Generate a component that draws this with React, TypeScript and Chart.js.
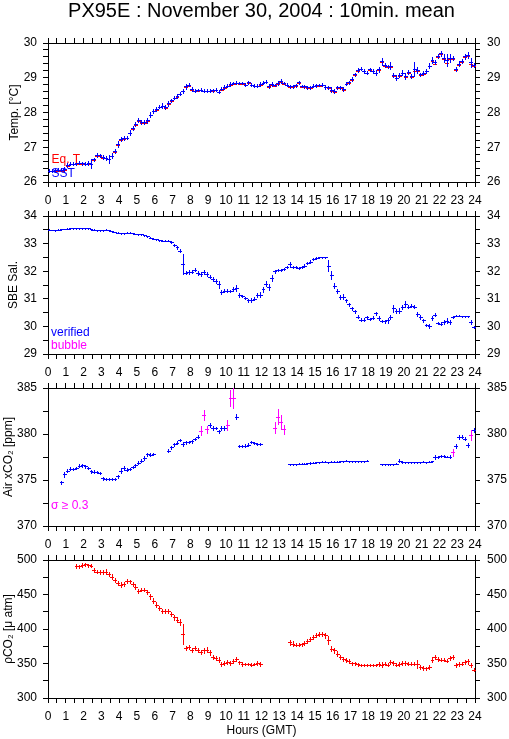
import React, { useEffect, useRef } from 'react';
import Chart from 'chart.js/auto';

// ---- data (10-min means, 144 per day) ----
const TITLE = 'PX95E : November 30, 2004 : 10min. mean';
const X_LABEL = 'Hours (GMT)';
const HALF_BIN = 5 / 60; // half of a 10-minute bin, in hours

const SST = [
  26.33,26.33,26.34,26.35,26.35,26.37,
  26.48,26.53,26.53,26.54,26.55,26.54,
  26.53,26.54,26.53,26.65,26.78,26.77,
  26.72,26.70,26.67,26.76,26.90,27.10,
  27.24,27.26,27.28,27.42,27.55,27.66,
  27.78,27.72,27.72,27.77,27.94,28.05,
  28.10,28.17,28.20,28.15,28.26,28.35,
  28.43,28.48,28.54,28.63,28.75,28.80,
  28.68,28.63,28.65,28.66,28.63,28.63,
  28.63,28.64,28.66,28.60,28.68,28.73,
  28.77,28.82,28.85,28.86,28.85,28.85,
  28.80,28.87,28.80,28.77,28.77,28.82,
  28.86,28.89,28.76,28.82,28.79,28.85,
  28.90,28.85,28.80,28.75,28.75,28.78,
  28.87,28.76,28.75,28.72,28.72,28.77,
  28.78,28.79,28.80,28.74,28.73,28.66,
  28.62,28.72,28.72,28.68,28.83,28.87,
  28.96,29.10,29.22,29.26,29.20,29.15,
  29.24,29.20,29.15,29.24,29.47,29.36,
  29.33,29.35,29.07,29.00,29.07,29.15,
  29.05,29.16,29.05,29.24,29.22,29.10,
  29.13,29.20,29.35,29.52,29.46,29.63,
  29.70,29.56,29.50,29.56,29.58,29.25,
  29.41,29.48,29.62,29.66,29.44,29.37,
];
const SST_SD = [
  0.04,0.04,0.04,0.04,0.04,0.05,
  0.06,0.04,0.04,0.04,0.04,0.04,
  0.04,0.05,0.12,0.05,0.05,0.04,
  0.05,0.06,0.11,0.07,0.06,0.09,
  0.06,0.05,0.05,0.08,0.06,0.06,
  0.06,0.05,0.05,0.06,0.08,0.06,
  0.05,0.05,0.06,0.06,0.06,0.05,
  0.05,0.05,0.05,0.06,0.06,0.05,
  0.05,0.04,0.04,0.04,0.04,0.04,
  0.04,0.04,0.04,0.05,0.04,0.05,
  0.05,0.05,0.04,0.04,0.04,0.04,
  0.04,0.05,0.04,0.04,0.04,0.05,
  0.05,0.04,0.06,0.06,0.04,0.05,
  0.05,0.04,0.04,0.04,0.04,0.04,
  0.05,0.04,0.04,0.04,0.04,0.04,
  0.04,0.04,0.04,0.05,0.04,0.07,
  0.05,0.05,0.04,0.05,0.05,0.05,
  0.05,0.05,0.05,0.05,0.05,0.04,
  0.05,0.05,0.06,0.07,0.10,0.06,
  0.05,0.09,0.06,0.07,0.06,0.06,
  0.08,0.06,0.07,0.20,0.08,0.05,
  0.05,0.06,0.08,0.09,0.06,0.06,
  0.07,0.12,0.17,0.12,0.06,0.07,
  0.07,0.06,0.07,0.08,0.13,0.06,
];
const EQT = [
  26.31,26.31,26.32,26.33,26.33,26.35,
  26.46,26.51,26.51,26.52,26.53,26.52,
  26.51,26.52,26.51,26.63,26.76,26.75,
  26.70,26.68,26.66,26.74,26.87,27.07,
  27.22,27.24,27.26,27.40,27.53,27.64,
  27.76,27.70,27.70,27.75,27.92,28.03,
  28.08,28.15,28.18,28.13,28.24,28.33,
  28.41,28.46,28.52,28.61,28.73,28.77,
  28.66,28.61,28.63,28.64,28.61,28.61,
  28.61,28.62,28.64,28.58,28.66,28.71,
  28.75,28.80,28.83,28.84,28.83,28.83,
  28.78,28.85,28.78,28.75,28.75,28.80,
  28.84,28.87,28.74,28.80,28.77,28.83,
  28.88,28.83,28.78,28.73,28.73,28.76,
  28.85,28.74,28.73,28.70,28.70,28.75,
  28.76,28.77,28.78,28.72,28.71,28.62,
  28.60,28.70,28.70,28.66,28.81,28.85,
  28.94,29.08,29.20,29.24,29.18,29.13,
  29.22,29.18,29.13,29.22,29.44,29.33,
  29.31,29.31,29.05,28.98,29.05,29.13,
  29.03,29.13,29.03,29.20,29.19,29.08,
  29.11,29.18,29.33,29.48,29.41,29.60,
  29.67,29.53,29.43,29.53,29.55,29.22,
  29.38,29.45,29.59,29.63,29.40,29.35,
];
const EQT_SD = [
  0.01,0.01,0.01,0.01,0.01,0.01,
  0.01,0.01,0.01,0.01,0.01,0.01,
  0.01,0.01,0.02,0.01,0.01,0.01,
  0.01,0.01,0.02,0.01,0.01,0.02,
  0.01,0.01,0.01,0.01,0.01,0.01,
  0.01,0.01,0.01,0.01,0.01,0.01,
  0.01,0.01,0.01,0.01,0.01,0.01,
  0.01,0.01,0.01,0.01,0.01,0.01,
  0.01,0.01,0.01,0.01,0.01,0.01,
  0.01,0.01,0.01,0.01,0.01,0.01,
  0.01,0.01,0.01,0.01,0.01,0.01,
  0.01,0.01,0.01,0.01,0.01,0.01,
  0.01,0.01,0.01,0.01,0.01,0.01,
  0.01,0.01,0.01,0.01,0.01,0.01,
  0.01,0.01,0.01,0.01,0.01,0.01,
  0.01,0.01,0.01,0.01,0.01,0.01,
  0.01,0.01,0.01,0.01,0.01,0.01,
  0.01,0.01,0.01,0.01,0.01,0.01,
  0.01,0.01,0.01,0.01,0.02,0.01,
  0.01,0.02,0.01,0.01,0.01,0.01,
  0.01,0.01,0.01,0.02,0.01,0.01,
  0.01,0.01,0.01,0.02,0.01,0.01,
  0.01,0.02,0.02,0.02,0.01,0.01,
  0.01,0.01,0.01,0.01,0.02,0.01,
];

const SAL = [
  33.50,33.49,33.48,33.50,33.52,33.53,
  33.54,33.55,33.55,33.55,33.55,33.56,
  33.56,33.55,33.52,33.50,33.48,33.48,
  33.48,33.50,33.48,33.45,33.42,33.40,
  33.38,33.38,33.40,33.40,33.38,33.35,
  33.33,33.33,33.30,33.27,33.22,33.18,
  33.15,33.12,33.10,33.10,33.10,33.05,
  32.95,32.87,32.75,32.25,31.95,31.97,
  31.98,32.05,31.95,31.90,31.97,31.90,
  31.80,31.72,31.65,31.52,31.25,31.30,
  31.30,31.27,31.35,31.38,31.15,31.10,
  31.02,30.95,30.95,31.00,31.15,31.15,
  31.35,31.55,31.42,31.75,32.00,32.05,
  32.05,32.08,32.15,32.25,32.15,32.15,
  32.12,32.15,32.20,32.30,32.35,32.45,
  32.47,32.50,32.50,32.50,32.20,31.85,
  31.48,31.27,31.05,31.08,30.95,30.80,
  30.65,30.55,30.35,30.25,30.25,30.33,
  30.27,30.32,30.47,30.30,30.20,30.18,
  30.22,30.35,30.65,30.55,30.57,30.70,
  30.82,30.72,30.75,30.72,30.45,30.35,
  30.22,30.05,30.02,30.30,30.43,30.12,
  30.10,30.15,30.20,30.17,30.35,30.38,
  30.38,30.37,30.37,30.37,30.15,29.98,
];
const SAL_SD = [
  0.015,0.015,0.015,0.015,0.015,0.015,
  0.015,0.015,0.015,0.015,0.015,0.015,
  0.015,0.015,0.015,0.015,0.015,0.015,
  0.015,0.015,0.015,0.015,0.015,0.015,
  0.015,0.015,0.015,0.015,0.015,0.015,
  0.015,0.015,0.015,0.015,0.015,0.015,
  0.015,0.015,0.015,0.015,0.015,0.04,
  0.05,0.05,0.06,0.36,0.04,0.06,
  0.06,0.05,0.07,0.06,0.07,0.06,
  0.06,0.07,0.06,0.12,0.07,0.05,
  0.05,0.04,0.06,0.11,0.07,0.05,
  0.04,0.05,0.07,0.05,0.07,0.09,
  0.09,0.09,0.11,0.11,0.05,0.04,
  0.03,0.03,0.05,0.08,0.05,0.03,
  0.03,0.03,0.05,0.05,0.04,0.03,
  0.03,0.02,0.02,0.02,0.19,0.14,
  0.08,0.07,0.07,0.08,0.05,0.06,
  0.06,0.05,0.05,0.04,0.04,0.06,
  0.05,0.05,0.06,0.07,0.05,0.06,
  0.09,0.07,0.14,0.08,0.08,0.07,
  0.10,0.06,0.06,0.05,0.08,0.07,
  0.06,0.05,0.06,0.07,0.05,0.05,
  0.05,0.07,0.09,0.07,0.03,0.02,
  0.02,0.02,0.02,0.02,0.08,0.04,
];

const XCO2 = [
  null,null,null,null,374.75,375.6,
  376.0,376.2,376.2,376.3,376.55,376.6,
  376.5,376.3,375.95,375.9,375.85,375.75,
  375.2,375.1,375.1,375.1,375.15,375.4,
  376.0,376.3,376.1,376.2,376.4,376.6,
  376.9,377.1,377.4,377.8,377.75,377.85,
  null,null,null,null,378.2,378.55,
  378.9,379.05,379.35,378.9,379.1,379.15,
  379.2,379.45,379.7,380.35,382.1,380.5,
  381.0,380.65,380.65,380.3,380.65,380.65,
  381.0,383.9,383.9,381.9,378.7,378.7,
  378.75,378.85,379.1,379.0,378.95,378.95,
  null,null,null,null,380.7,381.9,
  381.3,380.5,null,376.7,376.7,376.72,
  376.75,376.75,376.77,376.8,376.85,376.88,
  376.92,376.95,376.97,376.97,376.95,376.97,
  377.0,377.0,377.02,377.05,377.08,377.05,
  377.02,377.02,377.05,377.05,377.05,377.08,
  null,null,null,null,376.7,376.7,
  376.7,376.7,376.72,376.75,377.1,376.95,
  376.92,376.92,376.95,376.95,376.95,376.95,
  376.97,376.95,376.97,377.02,377.5,377.5,
  377.65,377.6,377.55,377.55,378.0,378.7,
  379.7,379.7,379.5,378.8,379.9,380.45,
];
const XCO2_SD = [
  0,0,0,0,0.15,0.28,
  0.18,0.16,0.15,0.15,0.15,0.14,
  0.15,0.15,0.14,0.14,0.13,0.13,
  0.15,0.12,0.10,0.10,0.12,0.15,
  0.26,0.18,0.16,0.15,0.15,0.16,
  0.16,0.16,0.18,0.16,0.14,0.12,
  0,0,0,0,0.18,0.16,
  0.16,0.16,0.16,0.24,0.16,0.14,
  0.14,0.14,0.16,0.50,0.54,0.36,
  0.24,0.18,0.16,0.18,0.20,0.20,
  0.57,0.86,1.08,0.28,0.12,0.12,
  0.14,0.14,0.12,0.12,0.12,0.12,
  0,0,0,0,0.63,0.77,
  0.77,0.45,0,0.08,0.06,0.06,
  0.06,0.06,0.06,0.06,0.06,0.06,
  0.06,0.06,0.06,0.06,0.06,0.06,
  0.06,0.06,0.06,0.06,0.06,0.06,
  0.06,0.06,0.06,0.06,0.06,0.06,
  0,0,0,0,0.06,0.06,
  0.06,0.06,0.06,0.06,0.14,0.08,
  0.06,0.06,0.06,0.06,0.06,0.06,
  0.06,0.06,0.06,0.08,0.20,0.15,
  0.12,0.12,0.10,0.12,0.40,0.26,
  0.20,0.15,0.15,0.25,0.54,0.24,
];
const XCO2_FLAG_SIGMA = 0.3;

const PCO2 = [
  null,null,null,null,null,null,
  null,null,null,491.8,490.8,492.3,
  493.5,492.3,491.8,486.0,483.0,482.6,
  482.6,483.0,480.0,476.0,471.5,466.7,
  464.3,465.7,470.0,469.0,465.2,461.0,
  455.6,457.0,457.0,453.6,447.3,441.0,
  435.3,430.4,426.0,426.0,426.0,422.0,
  417.0,413.5,409.7,392.8,372.0,373.9,
  369.1,372.0,370.0,366.7,369.1,370.0,
  366.0,360.0,358.0,355.6,349.8,350.7,
  352.2,350.7,354.0,356.5,351.7,349.3,
  349.3,349.3,348.3,349.3,350.7,349.3,
  null,null,null,null,null,null,
  null,null,null,380.7,378.7,377.3,
  377.3,377.8,379.7,383.1,385.5,388.4,
  390.8,393.2,392.8,390.8,384.5,371.5,
  369.1,364.3,358.9,357.0,355.6,354.1,
  350.2,350.2,349.0,347.3,347.3,347.3,
  347.3,347.3,347.3,349.3,348.5,350.0,
  348.5,352.0,350.5,348.5,349.0,351.0,
  351.0,350.0,350.0,350.0,349.3,345.1,
  343.5,343.0,345.0,355.5,359.4,357.0,
  355.6,355.6,354.1,358.0,359.4,347.3,
  349.3,349.8,352.2,353.1,347.3,341.0,
];
const PCO2_SD = [
  0,0,0,0,0,0,
  0,0,0,3,2.5,3,
  2.5,2.5,2.5,3,2.5,2.5,
  2.5,4,3,3.5,3,3.5,
  3.5,3,3,2.5,3,3.5,
  3,2.5,2.5,3,4,3.5,
  3.5,3,2.5,2.5,2.5,3,
  4,3.5,4.5,15,3,3,
  3,3,3,3,3.5,3.5,
  3.5,3,3.5,4,3,2.5,
  2.5,2.5,3,3.5,2.5,2.5,
  2,2,2,2,2.5,2.5,
  0,0,0,0,0,0,
  0,0,0,3.5,3.5,2.5,
  2.5,2.5,3,3,3,3,
  3,3,3,3.5,6,4,
  3.5,3.5,3,3,3,3,
  2.5,2,2,1.5,1.5,1.5,
  1.5,1.5,1.5,2.5,3,2.5,
  2.5,3,2.5,2.5,2.5,2.5,
  2.5,2,2,2,6,2.5,
  2.5,2,2.5,4,3.5,3,
  2.5,2.5,2.5,3,3,3,
  3.5,2.5,3,3.5,3,2.5,
];

// centre time of each 10-min bin (hours)
const HOURS = SST.map((_, i) => (i + 0.5) / 6);

const FONT = "'Liberation Sans', Arial, Helvetica, sans-serif";
const BLUE = '#0000ff';
const RED = '#ff0000';
const MAGENTA = '#ff00ff';

type Series = { label: string; values: (number | null)[]; sd: number[]; color: string; flagColor?: string; flagAt?: number };
type Note = { text: string; color: string; size: number; dx: number; dy: number; fromTop?: boolean; center?: boolean };
type PanelCfg = {
  canvasTop: number; canvasHeight: number; padTop: number; bottomH: number;
  min: number; max: number; minor: number; major: number;
  yTitle: string; titlePad: number; series: Series[]; notes: Note[]; xTitle?: string;
};

const crossPlugin = {
  id: 'errcross',
  afterDatasetsDraw(chart: any) {
    const { ctx, chartArea, scales } = chart;
    const xs = scales.x, ys = scales.y;
    ctx.save();
    ctx.beginPath();
    ctx.rect(chartArea.left, chartArea.top, chartArea.right - chartArea.left + 1, chartArea.bottom - chartArea.top + 1);
    ctx.clip();
    ctx.lineWidth = 1;
    chart.data.datasets.forEach((ds: any) => {
      ds.data.forEach((p: any, j: number) => {
        if (p.y == null) return;
        const sd = ds.sd[j] || 0;
        const col = ds.flagColor && sd >= ds.flagAt ? ds.flagColor : ds.borderColor;
        const x0 = xs.getPixelForValue(p.x - HALF_BIN);
        const x1 = xs.getPixelForValue(p.x + HALF_BIN);
        const cx = Math.round(xs.getPixelForValue(p.x)) + 0.5;
        const cy = Math.round(ys.getPixelForValue(p.y)) + 0.5;
        const yt = ys.getPixelForValue(p.y + sd);
        const yb = ys.getPixelForValue(p.y - sd);
        ctx.strokeStyle = col;
        ctx.beginPath();
        ctx.moveTo(Math.round(x0), cy);
        ctx.lineTo(Math.round(x1) + 1, cy);
        ctx.moveTo(cx, Math.round(yt));
        ctx.lineTo(cx, Math.round(yb) + 1);
        ctx.stroke();
      });
    });
    ctx.restore();
  },
};

function makeNotes(notes: Note[]) {
  return {
    id: 'notes',
    afterDraw(chart: any) {
      const { ctx, chartArea } = chart;
      ctx.save();
      notes.forEach((n) => {
        ctx.font = `${n.size}px ${FONT}`;
        ctx.fillStyle = n.color;
        ctx.textBaseline = 'alphabetic';
        ctx.textAlign = n.center ? 'center' : 'left';
        const x = n.center ? (chartArea.left + chartArea.right) / 2 + n.dx : chartArea.left + n.dx;
        const y = n.fromTop ? chartArea.top + n.dy : chartArea.bottom + n.dy;
        ctx.fillText(n.text, x, y);
      });
      ctx.restore();
    },
  };
}

const isMajor = (v: number, major: number) => {
  const r = v / major;
  return Math.abs(r - Math.round(r)) < 1e-6;
};

function buildConfig(p: PanelCfg): any {
  const tickFont = { family: FONT, size: 12 };
  const grid = { drawOnChartArea: false, drawTicks: true, tickLength: 5, color: '#000', tickColor: '#000', lineWidth: 1, tickWidth: 1 };
  const border = { display: true, color: '#000', width: 1 };
  const yLabel = (v: any) => (isMajor(Number(v), p.major) ? String(Math.round(Number(v))) : '');
  const xLabel = (v: any) => (isMajor(Number(v), 1) ? String(Math.round(Number(v))) : '');
  return {
    type: 'scatter',
    data: {
      datasets: p.series.map((s) => ({
        label: s.label,
        data: HOURS.map((h, i) => ({ x: h, y: s.values[i] })),
        sd: s.sd,
        flagColor: s.flagColor,
        flagAt: s.flagAt,
        borderColor: s.color,
        backgroundColor: s.color,
        pointRadius: 0,
        pointHoverRadius: 0,
        showLine: false,
      })),
    },
    options: {
      responsive: false,
      animation: false,
      events: [],
      layout: { padding: { top: p.padTop, left: 0, right: 0, bottom: 0 } },
      plugins: { legend: { display: false }, tooltip: { enabled: false }, title: { display: false } },
      scales: {
        x: {
          type: 'linear', position: 'bottom', min: 0, max: 24,
          ticks: { stepSize: 0.5, autoSkip: false, maxRotation: 0, minRotation: 0, padding: 6, color: '#000', font: tickFont, callback: xLabel },
          grid, border,
          title: p.xTitle ? { display: true, text: p.xTitle, color: '#000', font: { family: FONT, size: 12 }, padding: { top: 0, bottom: 1 } } : { display: false },
          afterFit: (s: any) => { s.height = p.bottomH; },
        },
        x2: {
          type: 'linear', position: 'top', min: 0, max: 24,
          ticks: { stepSize: 0.5, autoSkip: false, display: false },
          grid, border,
          afterFit: (s: any) => { s.height = 20; },
        },
        y: {
          type: 'linear', position: 'left', min: p.min, max: p.max,
          ticks: { stepSize: p.minor, autoSkip: false, padding: 6, color: '#000', font: tickFont, callback: yLabel },
          grid, border,
          title: { display: true, text: p.yTitle, color: '#000', font: { family: FONT, size: 12 }, padding: { top: p.titlePad, bottom: 0 } },
          afterFit: (s: any) => { s.width = 48; },
        },
        y2: {
          type: 'linear', position: 'right', min: p.min, max: p.max,
          ticks: { stepSize: p.minor, autoSkip: false, padding: 7, color: '#000', font: tickFont, callback: yLabel },
          grid, border,
          afterFit: (s: any) => { s.width = 34; },
        },
      },
    },
    plugins: [crossPlugin, makeNotes(p.notes)],
  };
}

const PANELS: PanelCfg[] = [
  {
    canvasTop: 0, canvasHeight: 212, padTop: 23, bottomH: 30,
    min: 26, max: 30, minor: 0.2, major: 1, yTitle: 'Temp. [°C]', titlePad: 7,
    series: [
      { label: 'Eq. T', values: EQT, sd: EQT_SD, color: RED },
      { label: 'SST', values: SST, sd: SST_SD, color: BLUE },
    ],
    notes: [
      { text: TITLE, color: '#000', size: 20, dx: 0, dy: -26, fromTop: true, center: true },
      { text: 'Eq. T', color: RED, size: 12, dx: 3.5, dy: -19.5 },
      { text: 'SST', color: BLUE, size: 12, dx: 3.5, dy: -5.5 },
    ],
  },
  {
    canvasTop: 173, canvasHeight: 211, padTop: 23, bottomH: 30,
    min: 29, max: 34, minor: 0.5, major: 1, yTitle: 'SBE Sal.', titlePad: 6,
    series: [{ label: 'SBE Sal.', values: SAL, sd: SAL_SD, color: BLUE }],
    notes: [
      { text: 'verified', color: BLUE, size: 12, dx: 3, dy: -18.5 },
      { text: 'bubble', color: MAGENTA, size: 12, dx: 3, dy: -5.5 },
    ],
  },
  {
    canvasTop: 345, canvasHeight: 211, padTop: 23, bottomH: 30,
    min: 370, max: 385, minor: 2.5, major: 5, yTitle: 'Air xCO₂ [ppm]', titlePad: 1.5,
    series: [{ label: 'Air xCO2', values: XCO2, sd: XCO2_SD, color: BLUE, flagColor: MAGENTA, flagAt: XCO2_FLAG_SIGMA }],
    notes: [{ text: 'σ ≥ 0.3', color: MAGENTA, size: 12, dx: 3, dy: -17.5 }],
  },
  {
    canvasTop: 517, canvasHeight: 222, padTop: 23, bottomH: 41,
    min: 300, max: 500, minor: 25, major: 50, yTitle: 'ρCO₂ [μ atm]', titlePad: 1.5,
    series: [{ label: 'pCO2', values: PCO2, sd: PCO2_SD, color: RED }],
    notes: [],
    xTitle: X_LABEL,
  },
];

function Panel({ cfg }: { cfg: PanelCfg }) {
  const ref = useRef<HTMLCanvasElement>(null);
  useEffect(() => {
    const chart = new Chart(ref.current as HTMLCanvasElement, buildConfig(cfg));
    return () => chart.destroy();
  }, [cfg]);
  return (
    <canvas
      ref={ref}
      width={509}
      height={cfg.canvasHeight}
      style={{ position: 'absolute', left: 0, top: cfg.canvasTop, width: 509, height: cfg.canvasHeight }}
    />
  );
}

export default function App() {
  return (
    <div style={{ position: 'absolute', left: 0, top: 0, width: 509, height: 739, background: '#fff', overflow: 'hidden' }}>
      {PANELS.map((p, i) => (
        <Panel key={i} cfg={p} />
      ))}
    </div>
  );
}
